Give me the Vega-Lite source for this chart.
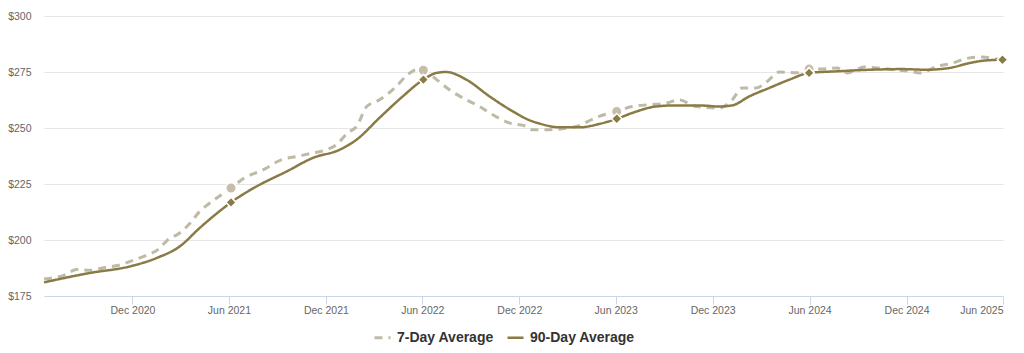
{
  "$schema": "https://vega.github.io/schema/vega-lite/v6.json",
  "width": 959,
  "height": 280,
  "autosize": {"type": "none"},
  "padding": {"left": 44, "top": 16, "right": 21, "bottom": 57},
  "background": "#ffffff",
  "config": {
    "view": {"stroke": null},
    "font": "Liberation Sans",
    "axis": {"labelFont": "Liberation Sans", "labelFontSize": 10.5, "labelColor": "#666666"}
  },
  "datasets": {
    "lines": [
      {"date": "2020-06-17", "series": "7-Day Average", "value": 182.6},
      {"date": "2020-07-23", "series": "7-Day Average", "value": 184.1},
      {"date": "2020-08-18", "series": "7-Day Average", "value": 186.8},
      {"date": "2020-09-12", "series": "7-Day Average", "value": 186.5},
      {"date": "2020-10-12", "series": "7-Day Average", "value": 187.8},
      {"date": "2020-11-05", "series": "7-Day Average", "value": 188.7},
      {"date": "2020-12-02", "series": "7-Day Average", "value": 190.9},
      {"date": "2020-12-26", "series": "7-Day Average", "value": 193.0},
      {"date": "2021-01-18", "series": "7-Day Average", "value": 195.7},
      {"date": "2021-02-06", "series": "7-Day Average", "value": 200.1},
      {"date": "2021-02-28", "series": "7-Day Average", "value": 203.1},
      {"date": "2021-03-20", "series": "7-Day Average", "value": 207.6},
      {"date": "2021-04-07", "series": "7-Day Average", "value": 212.8},
      {"date": "2021-04-26", "series": "7-Day Average", "value": 216.5},
      {"date": "2021-05-18", "series": "7-Day Average", "value": 220.2},
      {"date": "2021-06-05", "series": "7-Day Average", "value": 223.2},
      {"date": "2021-06-30", "series": "7-Day Average", "value": 227.7},
      {"date": "2021-08-02", "series": "7-Day Average", "value": 231.0},
      {"date": "2021-09-09", "series": "7-Day Average", "value": 235.9},
      {"date": "2021-10-07", "series": "7-Day Average", "value": 237.3},
      {"date": "2021-11-06", "series": "7-Day Average", "value": 238.8},
      {"date": "2021-12-02", "series": "7-Day Average", "value": 240.3},
      {"date": "2021-12-21", "series": "7-Day Average", "value": 242.5},
      {"date": "2022-01-11", "series": "7-Day Average", "value": 247.8},
      {"date": "2022-01-28", "series": "7-Day Average", "value": 250.7},
      {"date": "2022-02-16", "series": "7-Day Average", "value": 259.6},
      {"date": "2022-03-07", "series": "7-Day Average", "value": 261.9},
      {"date": "2022-03-26", "series": "7-Day Average", "value": 264.9},
      {"date": "2022-04-13", "series": "7-Day Average", "value": 268.6},
      {"date": "2022-05-04", "series": "7-Day Average", "value": 273.8},
      {"date": "2022-05-21", "series": "7-Day Average", "value": 276.0},
      {"date": "2022-06-03", "series": "7-Day Average", "value": 275.8},
      {"date": "2022-06-28", "series": "7-Day Average", "value": 271.6},
      {"date": "2022-07-22", "series": "7-Day Average", "value": 267.1},
      {"date": "2022-08-23", "series": "7-Day Average", "value": 262.6},
      {"date": "2022-09-17", "series": "7-Day Average", "value": 259.6},
      {"date": "2022-10-12", "series": "7-Day Average", "value": 255.9},
      {"date": "2022-11-13", "series": "7-Day Average", "value": 252.2},
      {"date": "2022-12-15", "series": "7-Day Average", "value": 250.7},
      {"date": "2022-12-26", "series": "7-Day Average", "value": 249.2},
      {"date": "2023-01-21", "series": "7-Day Average", "value": 249.2},
      {"date": "2023-02-21", "series": "7-Day Average", "value": 249.7},
      {"date": "2023-03-19", "series": "7-Day Average", "value": 250.7},
      {"date": "2023-04-09", "series": "7-Day Average", "value": 252.9},
      {"date": "2023-05-01", "series": "7-Day Average", "value": 255.2},
      {"date": "2023-06-03", "series": "7-Day Average", "value": 257.4},
      {"date": "2023-07-02", "series": "7-Day Average", "value": 259.6},
      {"date": "2023-08-03", "series": "7-Day Average", "value": 260.4},
      {"date": "2023-09-04", "series": "7-Day Average", "value": 261.1},
      {"date": "2023-09-28", "series": "7-Day Average", "value": 262.6},
      {"date": "2023-10-30", "series": "7-Day Average", "value": 259.6},
      {"date": "2023-11-18", "series": "7-Day Average", "value": 259.2},
      {"date": "2023-12-13", "series": "7-Day Average", "value": 258.9},
      {"date": "2024-01-07", "series": "7-Day Average", "value": 262.6},
      {"date": "2024-01-26", "series": "7-Day Average", "value": 267.9},
      {"date": "2024-02-21", "series": "7-Day Average", "value": 267.9},
      {"date": "2024-03-13", "series": "7-Day Average", "value": 270.8},
      {"date": "2024-04-05", "series": "7-Day Average", "value": 275.0},
      {"date": "2024-05-07", "series": "7-Day Average", "value": 274.7},
      {"date": "2024-05-31", "series": "7-Day Average", "value": 276.3},
      {"date": "2024-06-21", "series": "7-Day Average", "value": 276.3},
      {"date": "2024-07-23", "series": "7-Day Average", "value": 276.8},
      {"date": "2024-08-11", "series": "7-Day Average", "value": 274.6},
      {"date": "2024-09-12", "series": "7-Day Average", "value": 277.2},
      {"date": "2024-10-07", "series": "7-Day Average", "value": 276.8},
      {"date": "2024-11-08", "series": "7-Day Average", "value": 276.0},
      {"date": "2024-12-08", "series": "7-Day Average", "value": 275.3},
      {"date": "2024-12-27", "series": "7-Day Average", "value": 274.6},
      {"date": "2025-01-28", "series": "7-Day Average", "value": 277.5},
      {"date": "2025-02-21", "series": "7-Day Average", "value": 278.7},
      {"date": "2025-03-30", "series": "7-Day Average", "value": 281.3},
      {"date": "2025-04-23", "series": "7-Day Average", "value": 281.7},
      {"date": "2025-05-19", "series": "7-Day Average", "value": 280.8},
      {"date": "2025-05-31", "series": "7-Day Average", "value": 280.6},
      {"date": "2020-06-17", "series": "90-Day Average", "value": 181.1},
      {"date": "2020-09-12", "series": "90-Day Average", "value": 185.3},
      {"date": "2020-11-26", "series": "90-Day Average", "value": 188.2},
      {"date": "2021-01-16", "series": "90-Day Average", "value": 192.0},
      {"date": "2021-02-28", "series": "90-Day Average", "value": 197.1},
      {"date": "2021-04-07", "series": "90-Day Average", "value": 205.4},
      {"date": "2021-05-14", "series": "90-Day Average", "value": 212.8},
      {"date": "2021-06-05", "series": "90-Day Average", "value": 216.8},
      {"date": "2021-07-23", "series": "90-Day Average", "value": 223.9},
      {"date": "2021-09-18", "series": "90-Day Average", "value": 230.6},
      {"date": "2021-11-06", "series": "90-Day Average", "value": 236.6},
      {"date": "2021-12-27", "series": "90-Day Average", "value": 240.3},
      {"date": "2022-01-28", "series": "90-Day Average", "value": 244.8},
      {"date": "2022-03-12", "series": "90-Day Average", "value": 254.5},
      {"date": "2022-04-25", "series": "90-Day Average", "value": 264.1},
      {"date": "2022-06-03", "series": "90-Day Average", "value": 271.6},
      {"date": "2022-06-28", "series": "90-Day Average", "value": 274.6},
      {"date": "2022-07-16", "series": "90-Day Average", "value": 275.0},
      {"date": "2022-08-23", "series": "90-Day Average", "value": 271.6},
      {"date": "2022-10-06", "series": "90-Day Average", "value": 264.1},
      {"date": "2022-11-19", "series": "90-Day Average", "value": 257.4},
      {"date": "2022-12-21", "series": "90-Day Average", "value": 253.4},
      {"date": "2023-01-08", "series": "90-Day Average", "value": 252.0},
      {"date": "2023-02-15", "series": "90-Day Average", "value": 250.3},
      {"date": "2023-03-24", "series": "90-Day Average", "value": 250.3},
      {"date": "2023-05-01", "series": "90-Day Average", "value": 251.8},
      {"date": "2023-06-03", "series": "90-Day Average", "value": 254.1},
      {"date": "2023-07-02", "series": "90-Day Average", "value": 256.7},
      {"date": "2023-08-16", "series": "90-Day Average", "value": 259.6},
      {"date": "2023-09-23", "series": "90-Day Average", "value": 260.1},
      {"date": "2023-11-05", "series": "90-Day Average", "value": 260.1},
      {"date": "2023-12-13", "series": "90-Day Average", "value": 259.6},
      {"date": "2024-01-07", "series": "90-Day Average", "value": 260.1},
      {"date": "2024-02-08", "series": "90-Day Average", "value": 264.1},
      {"date": "2024-03-17", "series": "90-Day Average", "value": 267.9},
      {"date": "2024-04-24", "series": "90-Day Average", "value": 271.6},
      {"date": "2024-05-31", "series": "90-Day Average", "value": 274.6},
      {"date": "2024-07-22", "series": "90-Day Average", "value": 275.3},
      {"date": "2024-09-22", "series": "90-Day Average", "value": 276.0},
      {"date": "2024-11-23", "series": "90-Day Average", "value": 276.3},
      {"date": "2025-01-07", "series": "90-Day Average", "value": 276.0},
      {"date": "2025-02-20", "series": "90-Day Average", "value": 276.8},
      {"date": "2025-03-30", "series": "90-Day Average", "value": 279.0},
      {"date": "2025-04-23", "series": "90-Day Average", "value": 280.0},
      {"date": "2025-05-31", "series": "90-Day Average", "value": 280.5}
    ],
    "circles": [
      {"date": "2021-06-05", "value": 223.2},
      {"date": "2022-06-03", "value": 275.8},
      {"date": "2023-06-03", "value": 257.4},
      {"date": "2024-05-31", "value": 276.3}
    ],
    "diamonds": [
      {"date": "2021-06-05", "value": 216.8},
      {"date": "2022-06-03", "value": 271.6},
      {"date": "2023-06-03", "value": 254.1},
      {"date": "2024-05-31", "value": 274.6},
      {"date": "2025-05-31", "value": 280.5}
    ]
  },
  "layer": [
    {
      "data": {"name": "lines"},
      "mark": {"type": "line", "interpolate": "monotone", "strokeCap": "butt"},
      "encoding": {
        "x": {
          "field": "date", "type": "temporal",
          "scale": {"type": "utc", "domain": [{"year": 2020, "month": 6, "date": 17, "utc": true}, {"year": 2025, "month": 6, "date": 1, "utc": true}]},
          "axis": {
            "title": null,
            "format": "%b %Y",
            "values": [
              {"year": 2020, "month": 12, "date": 1, "utc": true},
              {"year": 2021, "month": 6, "date": 1, "utc": true},
              {"year": 2021, "month": 12, "date": 1, "utc": true},
              {"year": 2022, "month": 6, "date": 1, "utc": true},
              {"year": 2022, "month": 12, "date": 1, "utc": true},
              {"year": 2023, "month": 6, "date": 1, "utc": true},
              {"year": 2023, "month": 12, "date": 1, "utc": true},
              {"year": 2024, "month": 6, "date": 1, "utc": true},
              {"year": 2024, "month": 12, "date": 1, "utc": true},
              {"year": 2025, "month": 6, "date": 1, "utc": true}
            ],
            "grid": false,
            "domainColor": "#ccd6eb",
            "tickColor": "#ccd6eb",
            "tickSize": 8,
            "labelPadding": 1,
            "labelFlush": true
          }
        },
        "y": {
          "field": "value", "type": "quantitative",
          "scale": {"domain": [175, 300], "nice": false, "zero": false},
          "axis": {
            "title": null,
            "values": [175, 200, 225, 250, 275, 300],
            "format": "$.0f",
            "domain": false,
            "ticks": false,
            "gridColor": "#e6e6e6",
            "labelPadding": 13
          }
        },
        "color": {
          "field": "series", "type": "nominal",
          "scale": {"domain": ["7-Day Average", "90-Day Average"], "range": ["#bfbaa6", "#8a7a45"]},
          "legend": {
            "title": null,
            "orient": "none",
            "direction": "horizontal",
            "legendX": 329,
            "legendY": 312,
            "symbolType": "stroke",
            "symbolSize": 256,
            "symbolStrokeWidth": 3,
            "labelFont": "Liberation Sans",
            "labelFontSize": 14,
            "labelFontWeight": "bold",
            "labelColor": "#333333",
            "labelOffset": 5,
            "columnPadding": 8
          }
        },
        "strokeDash": {
          "field": "series", "type": "nominal",
          "scale": {"domain": ["7-Day Average", "90-Day Average"], "range": [[8, 6], [1, 0]]}
        },
        "strokeWidth": {
          "field": "series", "type": "nominal",
          "scale": {"domain": ["7-Day Average", "90-Day Average"], "range": [3, 2.5]},
          "legend": null
        }
      }
    },
    {
      "data": {"name": "circles"},
      "mark": {"type": "point", "shape": "circle", "filled": true, "fill": "#c6bea8", "stroke": "#ffffff", "strokeWidth": 1.5, "size": 110, "opacity": 1},
      "encoding": {
        "x": {"field": "date", "type": "temporal"},
        "y": {"field": "value", "type": "quantitative"}
      }
    },
    {
      "data": {"name": "diamonds"},
      "mark": {"type": "point", "shape": "diamond", "filled": true, "fill": "#8a7a45", "stroke": "#ffffff", "strokeWidth": 1.5, "size": 110, "opacity": 1},
      "encoding": {
        "x": {"field": "date", "type": "temporal"},
        "y": {"field": "value", "type": "quantitative"}
      }
    }
  ]
}
